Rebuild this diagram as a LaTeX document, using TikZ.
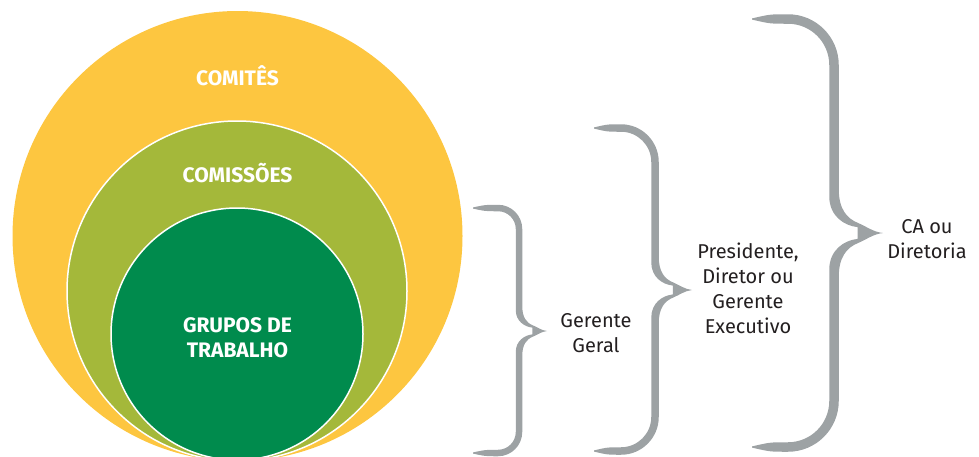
\documentclass[tikz,border=0pt]{standalone}
\usepackage{fontspec}
\setmainfont{Fira Sans}
\definecolor{cyellow}{HTML}{FDC640}
\definecolor{colive}{HTML}{A4B83A}
\definecolor{cdgreen}{HTML}{008B4D}
\definecolor{bracegray}{HTML}{9DA2A4}
\definecolor{textdark}{HTML}{231F20}

% #1 xl, #2 xm, #3 xtip, #4 ytop, #5 ytip, #6 ybot, #7 width, #8 corner radius
\newcommand{\gbrace}[8]{%
  \pgfmathsetmacro\bxo{#2+#7/2}%
  \pgfmathsetmacro\bxi{#2-#7/2}%
  \pgfmathsetmacro\bD{#3-#2}%
  \pgfmathsetmacro\bRo{#8+#7/2}%
  \pgfmathsetmacro\bRi{#8-#7/2}%
  \pgfmathsetmacro\bxc{#2-#8}%
  \pgfmathsetmacro\bxa{(#1+#2-#8)/2}%
  \pgfmathsetmacro\byto{#4-#7/2}%
  \pgfmathsetmacro\byti{#4+#7/2}%
  \pgfmathsetmacro\bybo{#6+#7/2}%
  \pgfmathsetmacro\bybi{#6-#7/2}%
  \fill[bracefill]
    (#1,{#4-0.6})
    .. controls (\bxa,\byto) .. (\bxc,\byto)
    .. controls ({\bxc+0.552*\bRo},\byto) and (\bxo,{#4+#8-0.552*\bRo}) .. (\bxo,{#4+#8})
    -- (\bxo,{#5-0.9*\bD})
    .. controls (\bxo,{#5-0.5*\bD}) and ({#2+0.25*\bD},{#5-0.3*\bD}) .. ({#2+0.5*\bD},{#5-0.2*\bD})
    .. controls ({#2+0.65*\bD},{#5-0.14*\bD}) and ({#2+0.8*\bD},{#5-0.02*\bD}) .. (#3,#5)
    .. controls ({#2+0.8*\bD},{#5+0.02*\bD}) and ({#2+0.65*\bD},{#5+0.14*\bD}) .. ({#2+0.5*\bD},{#5+0.2*\bD})
    .. controls ({#2+0.25*\bD},{#5+0.3*\bD}) and (\bxo,{#5+0.5*\bD}) .. (\bxo,{#5+0.9*\bD})
    -- (\bxo,{#6-#8})
    .. controls (\bxo,{#6-#8+0.552*\bRo}) and ({\bxc+0.552*\bRo},\bybo) .. (\bxc,\bybo)
    .. controls (\bxa,\bybo) .. (#1,{#6+0.6})
    -- (#1,{#6-0.6})
    .. controls (\bxa,\bybi) .. (\bxc,\bybi)
    .. controls ({\bxc+0.552*\bRi},\bybi) and (\bxi,{#6-#8+0.552*\bRi}) .. (\bxi,{#6-#8})
    -- (\bxi,{#5+0.75*\bD})
    .. controls (\bxi,{#5+0.35*\bD}) and ({#2+0.2*\bD},{#5+0.15*\bD}) .. ({#2+0.48*\bD},{#5+0.12*\bD})
    -- ({#2+0.48*\bD},{#5-0.12*\bD})
    .. controls ({#2+0.2*\bD},{#5-0.15*\bD}) and (\bxi,{#5-0.35*\bD}) .. (\bxi,{#5-0.75*\bD})
    -- (\bxi,{#4+#8})
    .. controls (\bxi,{#4+#8-0.552*\bRi}) and ({\bxc+0.552*\bRi},\byti) .. (\bxc,\byti)
    .. controls (\bxa,\byti) .. (#1,{#4+0.6})
    -- cycle;
}

\begin{document}
\begin{tikzpicture}[x=1pt,y=-1pt,
  bracefill/.style={fill=bracegray},
  ring/.style={circle, inner sep=0pt, outer sep=0pt},
  circlelabel/.style={font=\fontsize{21}{25}\selectfont\bfseries, text=white, align=center, anchor=base, inner sep=0pt},
  sidelabel/.style={font=\fontsize{20}{25}\selectfont, text=textdark, align=center, anchor=base, inner sep=0pt}]
\useasboundingbox (0,0) rectangle (979,456);
\clip (0,0) rectangle (979,456);

\node[ring, fill=cyellow, minimum size=450pt] (comites) at (237.5,236) {};
\node[ring, fill=colive, draw=white, line width=1.5pt, minimum size=340pt] (comissoes) at (237,291) {};
\node[ring, fill=cdgreen, draw=white, line width=1.5pt, minimum size=252pt] (grupos) at (237,334) {};

\node[circlelabel] (tcomites) at (237.5,85) {COMITÊS};
\node[circlelabel] (tcomissoes) at (237.5,182) {COMISSÕES};
\node[circlelabel] (tgrupos) at (237.5,357) {GRUPOS DE\\TRABALHO};

\gbrace{473}{519}{547}{208}{331}{453}{6.5}{21}
\gbrace{594}{655}{692}{128}{290}{451}{7.5}{34}
\gbrace{752}{834}{883}{19}{233}{447}{9.5}{46}

\node[sidelabel] (gerente) at (596,352) {Gerente\\Geral};
\node[sidelabel] (presidente) at (748,333) {Presidente,\\Diretor ou\\Gerente\\Executivo};
\node[sidelabel] (ca) at (927,258) {CA ou\\Diretoria};
\end{tikzpicture}
\end{document}
